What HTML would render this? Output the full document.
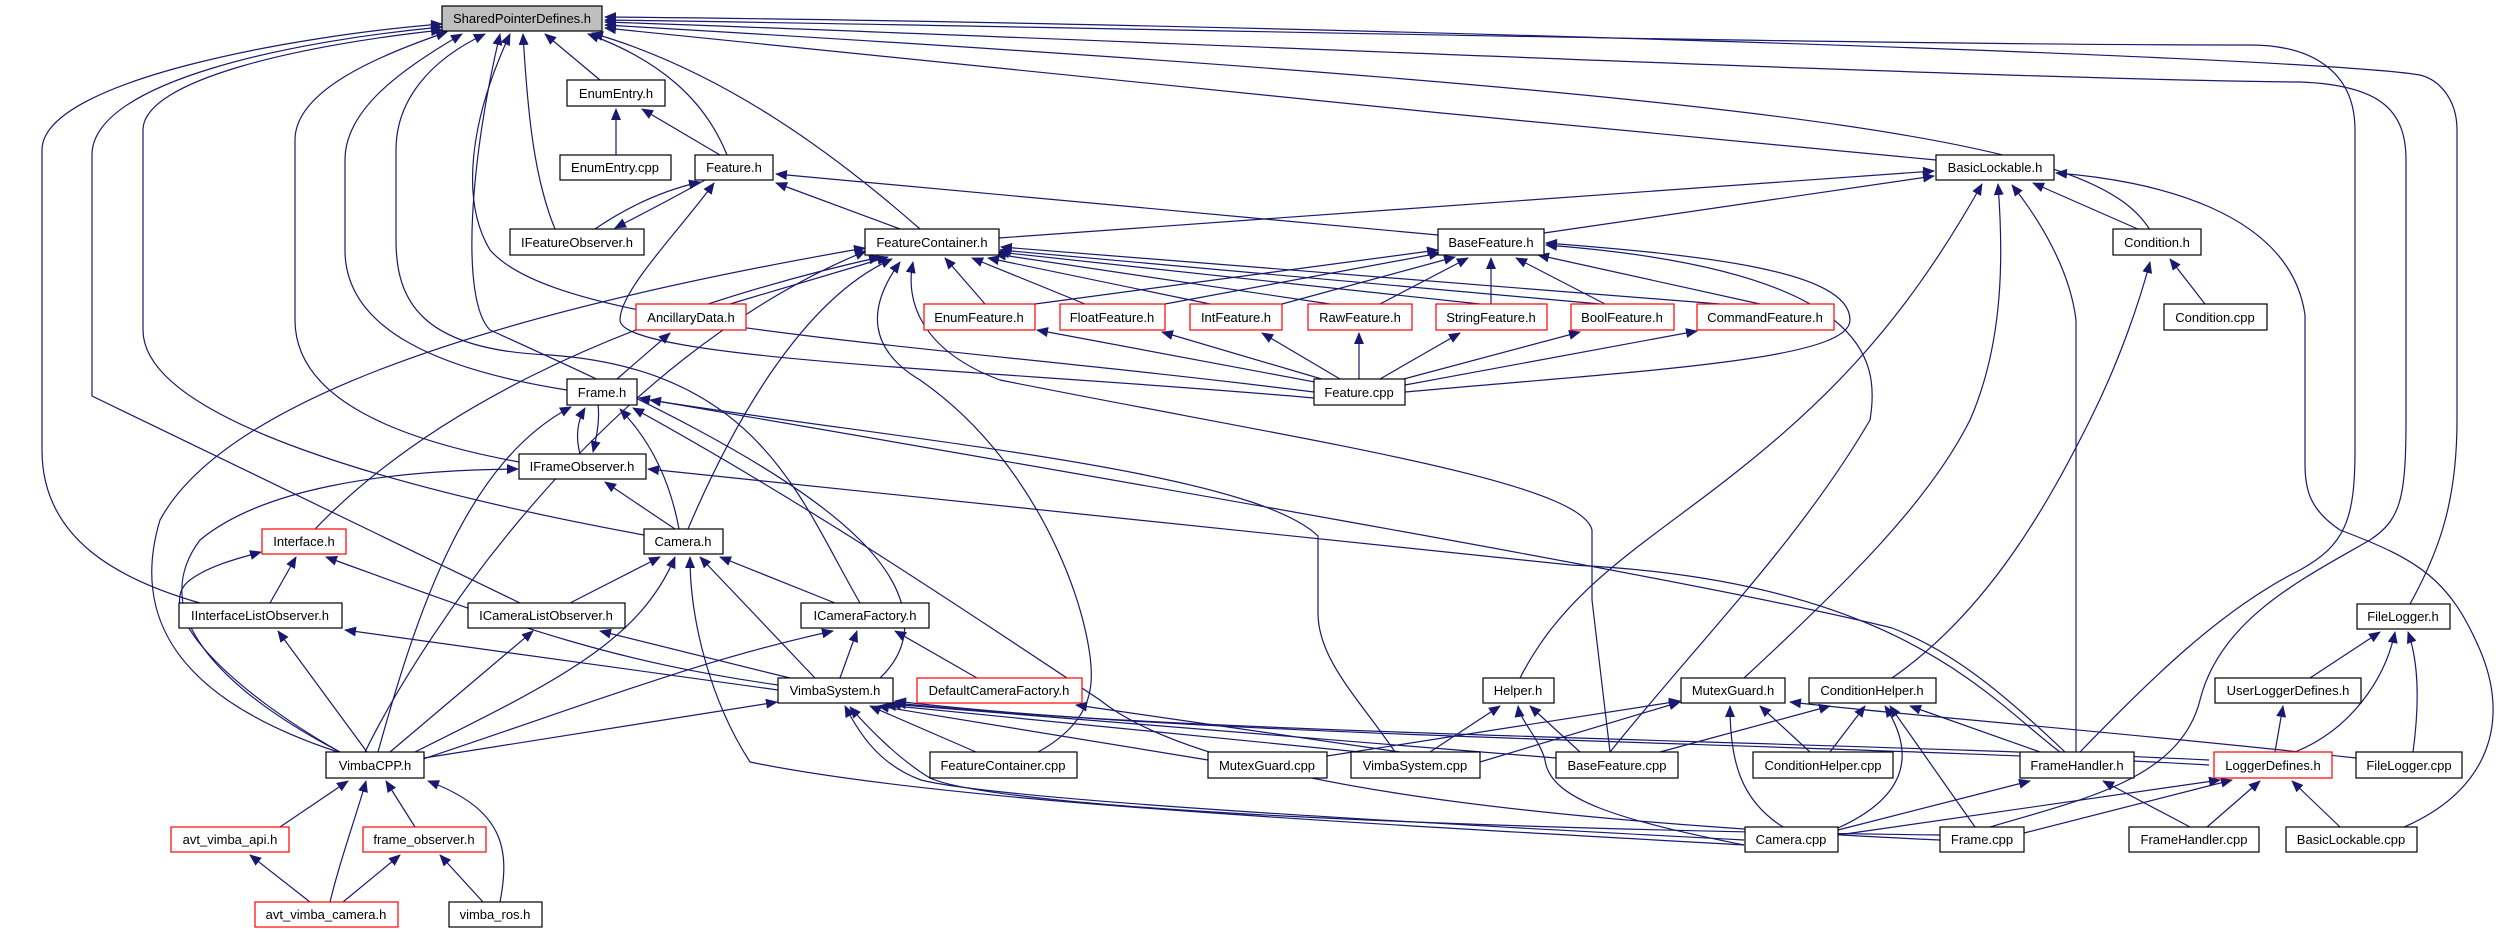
<!DOCTYPE html>
<html><head><meta charset="utf-8"><style>
html,body{margin:0;padding:0;background:#fff;}
svg{display:block;}
text{font-family:"Liberation Sans",Arial,sans-serif;font-size:13px;fill:#000;}
.e{fill:none;stroke:#191970;stroke-width:1.2;marker-end:url(#a);}
.n{fill:#fff;stroke:#000;stroke-width:1.2;}
.r{fill:#fff;stroke:#ff0000;stroke-width:1.2;}
.g{fill:#bfbfbf;stroke:#000;stroke-width:1.2;}
</style></head><body>
<svg width="2504" height="933" viewBox="0 0 2504 933" xmlns="http://www.w3.org/2000/svg">
<defs><marker id="a" markerWidth="12" markerHeight="10" refX="11" refY="5" orient="auto" markerUnits="userSpaceOnUse"><path d="M0,0 L12,5 L0,10 z" fill="#191970"/></marker></defs>
<g>
<!-- into SharedPointerDefines -->
<path class="e" d="M600,80 L545,34"/>
<path class="e" d="M727,155 C705,100 660,60 588,34"/>
<path class="e" d="M555,229 C535,180 528,120 523,34"/>
<path class="e" d="M920,229 C830,150 720,70 592,33"/>
<path class="e" d="M1936,160 C1500,120 900,60 605,28"/>
<path class="e" d="M2150,230 C2100,150 1900,100 605,25"/>
<path class="e" d="M2080,752 C2150,680 2220,610 2300,570 C2345,545 2355,520 2355,450 L2355,130 C2355,70 2310,45 2250,45 C1800,45 1000,25 605,20"/>
<path class="e" d="M1990,827 C2080,800 2180,780 2200,700 C2220,620 2300,580 2370,540 C2400,520 2406,500 2406,420 L2406,160 C2406,110 2380,85 2300,82 C2000,80 1000,35 605,22"/>
<path class="e" d="M2410,604 C2440,550 2457,500 2457,420 L2457,130 C2457,100 2440,80 2420,75 C2300,55 1200,22 605,17"/>
<path class="e" d="M1314,392 C900,340 560,330 490,250 C460,200 470,120 510,34"/>
<path class="e" d="M567,390 C440,370 345,330 345,250 L345,160 C345,110 400,70 462,34"/>
<path class="e" d="M519,462 C400,440 295,400 295,320 L295,140 C295,90 380,55 447,32"/>
<path class="e" d="M644,535 C400,490 143,420 143,330 L143,130 C143,80 300,45 442,30"/>
<path class="e" d="M520,603 L92,396 L92,155 C92,80 300,40 442,27"/>
<path class="e" d="M200,603 C120,580 42,540 42,450 L42,150 C42,80 300,35 442,24"/>
<path class="e" d="M860,603 C800,500 760,370 550,355 C420,350 396,300 396,240 L396,150 C396,100 430,60 485,34"/>
<path class="e" d="M1395,752 C1360,700 1318,660 1318,613 L1318,536 C1250,470 900,440 650,400"/>
<path class="e" d="M880,678 C920,640 910,590 860,540 C780,460 600,380 490,330 C460,300 470,160 500,34"/>
<!-- EnumEntry / Feature -->
<path class="e" d="M616,155 L616,109"/>
<path class="e" d="M720,155 L642,109"/>
<path class="e" d="M595,229 C630,205 665,190 700,182"/>
<path class="e" d="M705,180 C670,200 640,215 615,228"/>
<path class="e" d="M900,229 L776,183"/>
<path class="e" d="M1438,235 L776,174"/>
<path class="e" d="M1314,398 C1000,370 620,360 620,320 C620,290 680,230 714,183"/>
<!-- BasicLockable -->
<path class="e" d="M1544,233 L1934,176"/>
<path class="e" d="M999,238 L1934,171"/>
<path class="e" d="M2140,230 L2033,183"/>
<path class="e" d="M2205,304 L2170,259"/>
<path class="e" d="M1520,678 C1560,600 1620,560 1700,500 C1820,410 1900,330 1982,184"/>
<path class="e" d="M1744,678 C1850,580 1930,500 1970,420 C2005,340 2003,250 1998,184"/>
<path class="e" d="M2076,752 L2076,320 C2070,270 2040,220 2012,185"/>
<path class="e" d="M2404,827 C2490,790 2510,720 2480,650 C2450,580 2420,560 2340,530 C2310,510 2305,490 2305,464 L2305,315 C2290,210 2150,180 2056,173"/>
<path class="e" d="M1892,678 C1990,610 2050,500 2090,420 C2120,360 2140,300 2150,262"/>
<!-- Feature headers to FeatureContainer / BaseFeature -->
<path class="e" d="M985,304 L945,258"/>
<path class="e" d="M1085,304 L972,258"/>
<path class="e" d="M1210,304 L988,258"/>
<path class="e" d="M1330,304 L995,254"/>
<path class="e" d="M1480,304 L998,252"/>
<path class="e" d="M1600,304 L1000,250"/>
<path class="e" d="M1720,304 L1001,247"/>
<path class="e" d="M1035,304 L1438,250"/>
<path class="e" d="M1165,304 L1440,253"/>
<path class="e" d="M1282,304 L1455,257"/>
<path class="e" d="M1380,304 L1468,258"/>
<path class="e" d="M1491,304 L1491,258"/>
<path class="e" d="M1605,304 L1516,258"/>
<path class="e" d="M1760,304 L1538,255"/>
<path class="e" d="M730,304 L888,257"/>
<path class="e" d="M617,379 L670,333"/>
<!-- Feature.cpp to headers -->
<path class="e" d="M1320,383 L1037,330"/>
<path class="e" d="M1325,380 L1162,332"/>
<path class="e" d="M1340,379 L1262,333"/>
<path class="e" d="M1359,379 L1359,333"/>
<path class="e" d="M1380,379 L1460,333"/>
<path class="e" d="M1400,380 L1580,332"/>
<path class="e" d="M1405,385 L1697,331"/>
<path class="e" d="M1405,392 C1650,370 1850,360 1850,320 C1850,270 1700,255 1546,243"/>
<path class="e" d="M1610,752 C1700,640 1800,540 1870,420 C1880,360 1870,270 1546,245"/>
<path class="e" d="M1610,752 L1592,600 L1592,530 C1580,480 1300,440 1000,380 C920,350 905,300 913,262"/>
<path class="e" d="M1038,752 C1060,740 1085,720 1090,690 C1100,640 1050,470 920,380 C870,350 865,310 900,262"/>
<!-- into FeatureContainer from left -->
<path class="e" d="M338,752 C180,700 130,620 160,520 C220,410 450,320 865,248"/>
<path class="e" d="M315,529 C420,420 600,320 880,257"/>
<path class="e" d="M688,529 C730,430 800,300 892,259"/>
<path class="e" d="M365,752 C420,640 600,360 866,251"/>
<!-- Frame.h -->
<path class="e" d="M580,454 C575,435 578,420 585,408"/>
<path class="e" d="M598,405 C600,420 596,440 593,452"/>
<path class="e" d="M679,529 C670,480 650,440 620,409"/>
<path class="e" d="M378,752 C420,600 470,460 571,407"/>
<path class="e" d="M2065,752 C2000,690 1950,650 1892,628 C1700,580 1000,460 639,398"/>
<path class="e" d="M1940,840 C1500,820 1200,780 1100,700 C950,600 800,500 633,408"/>
<!-- IFrameObserver -->
<path class="e" d="M675,529 L605,482"/>
<path class="e" d="M340,752 C240,700 140,620 200,540 C260,490 380,470 518,469"/>
<path class="e" d="M2060,752 C1990,700 1900,580 1571,565 L648,469"/>
<!-- Interface.h -->
<path class="e" d="M270,603 L296,557"/>
<path class="e" d="M340,752 C230,690 150,610 190,580 C210,565 240,558 261,552"/>
<path class="e" d="M778,685 C600,660 500,620 326,557"/>
<!-- Camera.h -->
<path class="e" d="M570,603 L660,557"/>
<path class="e" d="M835,603 L720,557"/>
<path class="e" d="M815,678 L700,557"/>
<path class="e" d="M415,752 C560,680 640,640 675,557"/>
<path class="e" d="M1744,845 C1300,820 933,800 750,762 C710,700 690,620 690,557"/>
<!-- ListObservers / Factory -->
<path class="e" d="M367,752 L278,631"/>
<path class="e" d="M778,690 L345,630"/>
<path class="e" d="M390,752 L533,631"/>
<path class="e" d="M790,678 L600,631"/>
<path class="e" d="M840,678 L857,631"/>
<path class="e" d="M977,678 L895,631"/>
<path class="e" d="M420,760 C600,700 700,660 833,631"/>
<!-- VimbaSystem.h -->
<path class="e" d="M424,758 L777,702"/>
<path class="e" d="M976,752 L870,706"/>
<path class="e" d="M1208,760 L878,706"/>
<path class="e" d="M1360,752 L885,705"/>
<path class="e" d="M1556,758 L890,704"/>
<path class="e" d="M1744,840 C1400,822 1000,800 921,780 C880,765 860,735 845,706"/>
<path class="e" d="M1940,835 C1500,830 1000,810 930,778 C900,760 870,730 850,707"/>
<path class="e" d="M2209,760 C1800,740 1200,735 895,703"/>
<path class="e" d="M2209,765 C1800,742 1200,738 895,701"/>
<path class="e" d="M1400,752 L1076,705"/>
<!-- VimbaCPP children -->
<path class="e" d="M280,827 L348,781"/>
<path class="e" d="M330,902 C340,860 355,820 366,781"/>
<path class="e" d="M415,827 L386,781"/>
<path class="e" d="M500,902 C510,850 505,810 428,781"/>
<path class="e" d="M310,902 L250,855"/>
<path class="e" d="M343,902 L400,855"/>
<path class="e" d="M483,902 L440,855"/>
<!-- Helper / MutexGuard / ConditionHelper -->
<path class="e" d="M1430,752 L1500,706"/>
<path class="e" d="M1580,752 L1530,706"/>
<path class="e" d="M1744,845 C1620,820 1550,800 1545,760 C1540,740 1520,720 1518,706"/>
<path class="e" d="M1810,752 L1760,706"/>
<path class="e" d="M1783,827 C1740,800 1730,760 1730,706"/>
<path class="e" d="M1480,762 L1680,702"/>
<path class="e" d="M1327,756 L1680,701"/>
<path class="e" d="M1830,752 L1865,706"/>
<path class="e" d="M1838,828 C1900,800 1920,760 1885,706"/>
<path class="e" d="M1975,827 L1890,706"/>
<path class="e" d="M2040,752 L1910,706"/>
<path class="e" d="M1660,752 L1830,706"/>
<path class="e" d="M2356,758 C2100,730 1900,715 1790,702"/>
<!-- Logger -->
<path class="e" d="M2207,827 L2260,781"/>
<path class="e" d="M2340,827 L2292,781"/>
<path class="e" d="M1838,835 L2220,780"/>
<path class="e" d="M2024,833 L2232,780"/>
<path class="e" d="M2275,752 L2283,706"/>
<path class="e" d="M2310,678 L2380,632"/>
<path class="e" d="M2295,752 C2350,730 2385,680 2395,632"/>
<path class="e" d="M2413,752 C2420,700 2418,660 2408,632"/>
<path class="e" d="M2190,827 L2103,781"/>
<path class="e" d="M1838,830 L2030,781"/>
</g>
<g>
<rect class="g" x="442" y="6" width="160" height="25"/><text x="522" y="23" text-anchor="middle">SharedPointerDefines.h</text>
<rect class="n" x="567" y="80" width="98" height="26"/><text x="616" y="98" text-anchor="middle">EnumEntry.h</text>
<rect class="n" x="560" y="155" width="111" height="25"/><text x="615" y="172" text-anchor="middle">EnumEntry.cpp</text>
<rect class="n" x="695" y="155" width="78" height="25"/><text x="734" y="172" text-anchor="middle">Feature.h</text>
<rect class="n" x="1936" y="155" width="118" height="25"/><text x="1995" y="172" text-anchor="middle">BasicLockable.h</text>
<rect class="n" x="510" y="229" width="134" height="26"/><text x="577" y="247" text-anchor="middle">IFeatureObserver.h</text>
<rect class="n" x="865" y="229" width="134" height="26"/><text x="932" y="247" text-anchor="middle">FeatureContainer.h</text>
<rect class="n" x="1438" y="229" width="106" height="26"/><text x="1491" y="247" text-anchor="middle">BaseFeature.h</text>
<rect class="n" x="2113" y="229" width="88" height="26"/><text x="2157" y="247" text-anchor="middle">Condition.h</text>
<rect class="r" x="636" y="304" width="110" height="26"/><text x="691" y="322" text-anchor="middle">AncillaryData.h</text>
<rect class="r" x="924" y="304" width="111" height="26"/><text x="979" y="322" text-anchor="middle">EnumFeature.h</text>
<rect class="r" x="1060" y="304" width="105" height="26"/><text x="1112" y="322" text-anchor="middle">FloatFeature.h</text>
<rect class="r" x="1190" y="304" width="92" height="26"/><text x="1236" y="322" text-anchor="middle">IntFeature.h</text>
<rect class="r" x="1308" y="304" width="104" height="26"/><text x="1360" y="322" text-anchor="middle">RawFeature.h</text>
<rect class="r" x="1436" y="304" width="111" height="26"/><text x="1491" y="322" text-anchor="middle">StringFeature.h</text>
<rect class="r" x="1571" y="304" width="103" height="26"/><text x="1622" y="322" text-anchor="middle">BoolFeature.h</text>
<rect class="r" x="1697" y="304" width="137" height="26"/><text x="1765" y="322" text-anchor="middle">CommandFeature.h</text>
<rect class="n" x="2164" y="304" width="103" height="26"/><text x="2215" y="322" text-anchor="middle">Condition.cpp</text>
<rect class="n" x="567" y="379" width="70" height="26"/><text x="602" y="397" text-anchor="middle">Frame.h</text>
<rect class="n" x="1314" y="379" width="91" height="26"/><text x="1359" y="397" text-anchor="middle">Feature.cpp</text>
<rect class="n" x="519" y="454" width="127" height="25"/><text x="582" y="471" text-anchor="middle">IFrameObserver.h</text>
<rect class="r" x="262" y="529" width="84" height="25"/><text x="304" y="546" text-anchor="middle">Interface.h</text>
<rect class="n" x="644" y="529" width="79" height="25"/><text x="683" y="546" text-anchor="middle">Camera.h</text>
<rect class="n" x="179" y="603" width="163" height="25"/><text x="260" y="620" text-anchor="middle">IInterfaceListObserver.h</text>
<rect class="n" x="468" y="603" width="157" height="25"/><text x="546" y="620" text-anchor="middle">ICameraListObserver.h</text>
<rect class="n" x="801" y="603" width="128" height="25"/><text x="865" y="620" text-anchor="middle">ICameraFactory.h</text>
<rect class="n" x="2357" y="604" width="93" height="25"/><text x="2403" y="621" text-anchor="middle">FileLogger.h</text>
<rect class="n" x="778" y="678" width="115" height="25"/><text x="835" y="695" text-anchor="middle">VimbaSystem.h</text>
<rect class="r" x="917" y="678" width="165" height="25"/><text x="999" y="695" text-anchor="middle">DefaultCameraFactory.h</text>
<rect class="n" x="1483" y="678" width="71" height="25"/><text x="1518" y="695" text-anchor="middle">Helper.h</text>
<rect class="n" x="1681" y="678" width="104" height="25"/><text x="1733" y="695" text-anchor="middle">MutexGuard.h</text>
<rect class="n" x="1809" y="678" width="127" height="25"/><text x="1872" y="695" text-anchor="middle">ConditionHelper.h</text>
<rect class="n" x="2215" y="678" width="146" height="25"/><text x="2288" y="695" text-anchor="middle">UserLoggerDefines.h</text>
<rect class="n" x="326" y="752" width="98" height="26"/><text x="375" y="770" text-anchor="middle">VimbaCPP.h</text>
<rect class="n" x="930" y="752" width="147" height="26"/><text x="1003" y="770" text-anchor="middle">FeatureContainer.cpp</text>
<rect class="n" x="1208" y="752" width="119" height="26"/><text x="1267" y="770" text-anchor="middle">MutexGuard.cpp</text>
<rect class="n" x="1351" y="752" width="129" height="26"/><text x="1415" y="770" text-anchor="middle">VimbaSystem.cpp</text>
<rect class="n" x="1556" y="752" width="122" height="26"/><text x="1617" y="770" text-anchor="middle">BaseFeature.cpp</text>
<rect class="n" x="1753" y="752" width="140" height="26"/><text x="1823" y="770" text-anchor="middle">ConditionHelper.cpp</text>
<rect class="n" x="2020" y="752" width="114" height="26"/><text x="2077" y="770" text-anchor="middle">FrameHandler.h</text>
<rect class="r" x="2214" y="752" width="118" height="26"/><text x="2273" y="770" text-anchor="middle">LoggerDefines.h</text>
<rect class="n" x="2356" y="752" width="106" height="26"/><text x="2409" y="770" text-anchor="middle">FileLogger.cpp</text>
<rect class="r" x="171" y="827" width="118" height="25"/><text x="230" y="844" text-anchor="middle">avt_vimba_api.h</text>
<rect class="r" x="363" y="827" width="123" height="25"/><text x="424" y="844" text-anchor="middle">frame_observer.h</text>
<rect class="n" x="1745" y="827" width="93" height="25"/><text x="1791" y="844" text-anchor="middle">Camera.cpp</text>
<rect class="n" x="1940" y="827" width="84" height="25"/><text x="1982" y="844" text-anchor="middle">Frame.cpp</text>
<rect class="n" x="2129" y="827" width="130" height="25"/><text x="2194" y="844" text-anchor="middle">FrameHandler.cpp</text>
<rect class="n" x="2286" y="827" width="131" height="25"/><text x="2351" y="844" text-anchor="middle">BasicLockable.cpp</text>
<rect class="r" x="255" y="902" width="143" height="25"/><text x="326" y="919" text-anchor="middle">avt_vimba_camera.h</text>
<rect class="n" x="449" y="902" width="93" height="25"/><text x="495" y="919" text-anchor="middle">vimba_ros.h</text>
</g>
</svg>
</body></html>
